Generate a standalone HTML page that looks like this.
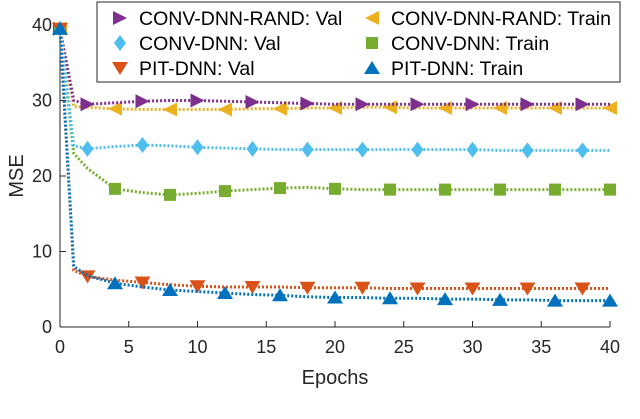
<!DOCTYPE html>
<html><head><meta charset="utf-8"><style>
body{margin:0;background:#fff;}
svg{display:block;font-family:"Liberation Sans",sans-serif;}
</style></head><body>
<svg id="c" width="640" height="419"></svg>
<script>
const epochs=[0,1,2,4,6,8,10,12,14,16,18,20,22,24,26,28,30,32,34,36,38,40];
const randVal=[39.5,30,29.5,29.7,29.9,30,30,29.9,29.8,29.7,29.6,29.5,29.5,29.5,29.5,29.5,29.5,29.5,29.5,29.5,29.5,29.5];
const randTrain=[39.5,29.2,29.1,28.9,28.8,28.8,28.8,28.8,28.9,28.9,29,29,29.1,29.1,29,29,29,29,29,29,29,29];
const convVal=[39.5,24,23.6,23.9,24.1,24,23.8,23.7,23.6,23.5,23.5,23.5,23.5,23.5,23.5,23.5,23.5,23.4,23.4,23.4,23.4,23.4];
const convTrain=[39.5,23,21,18.3,17.8,17.5,17.7,18,18.2,18.4,18.5,18.3,18.2,18.2,18.2,18.2,18.2,18.2,18.2,18.2,18.2,18.2];
const pitVal=[39.5,7.5,6.7,6.2,5.9,5.6,5.4,5.3,5.3,5.3,5.2,5.2,5.2,5.1,5.1,5.1,5.1,5.1,5.1,5.1,5.1,5.1];
const pitTrain=[39.5,8,6.8,5.8,5.3,4.9,4.7,4.5,4.3,4.2,4.0,3.9,3.9,3.8,3.8,3.7,3.7,3.6,3.6,3.5,3.5,3.5];
const xTicks=[0,5,10,15,20,25,30,35,40];
const yTicks=[0,10,20,30,40];
const X=e=>60+e*13.75, Y=v=>327-v*7.55;
const svg=document.getElementById('c');
const NS='http://www.w3.org/2000/svg';
function mk(t,a,p){const e=document.createElementNS(NS,t);for(const k in a)e.setAttribute(k,a[k]);(p||svg).appendChild(e);return e;}
function marker(shape,x,y,col,g){
  let p;
  if(shape==='right')p=`${x-7},${y-7} ${x+7},${y} ${x-7},${y+7}`;
  else if(shape==='left')p=`${x+7},${y-7} ${x-7},${y} ${x+7},${y+7}`;
  else if(shape==='down')p=`${x-8},${y-6} ${x+8},${y-6} ${x},${y+7}`;
  else if(shape==='up')p=`${x-8},${y+6} ${x+8},${y+6} ${x},${y-7}`;
  else if(shape==='diamond')p=`${x},${y-8} ${x+6},${y} ${x},${y+8} ${x-6},${y}`;
  else p=`${x-6},${y-6} ${x+6},${y-6} ${x+6},${y+6} ${x-6},${y+6}`;
  const m=mk('polygon',{points:p,fill:col},g);
  
  
}
const ax=mk('g',{});


mk('line',{x1:60,y1:327,x2:610,y2:327,stroke:'#262626','stroke-width':1},ax);
mk('line',{x1:60,y1:327,x2:60,y2:22,stroke:'#262626','stroke-width':1},ax);
xTicks.forEach(t=>{
  mk('line',{x1:X(t),y1:327,x2:X(t),y2:321,stroke:'#262626'},ax);
  const l=mk('text',{x:X(t),y:353,'text-anchor':'middle','font-size':18,fill:'#262626'},ax);l.textContent=t;
  
  
});
yTicks.forEach(t=>{
  mk('line',{x1:60,y1:Y(t),x2:66,y2:Y(t),stroke:'#262626'},ax);
  const l=mk('text',{x:52,y:Y(t)+6,'text-anchor':'end','font-size':18,fill:'#262626'},ax);l.textContent=t;
  
  
});
const xt=mk('text',{x:335,y:384,'text-anchor':'middle','font-size':20,fill:'#262626'});xt.textContent='Epochs';


const yt=mk('text',{x:23,y:176,'text-anchor':'middle','font-size':20,fill:'#262626',transform:'rotate(-90 23 176)'});yt.textContent='MSE';


const series=[
 {d:randTrain,c:'#EDB120',s:'left',m:[4,40,4],n:'CONV-DNN-RAND: Train'},
 {d:randVal,c:'#7E2F8E',s:'right',m:[2,38,4],n:'CONV-DNN-RAND: Val'},
 {d:convTrain,c:'#77AC30',s:'square',m:[4,40,4],n:'CONV-DNN: Train'},
 {d:convVal,c:'#4DBEEE',s:'diamond',m:[2,38,4],n:'CONV-DNN: Val'},
 {d:pitVal,c:'#D95319',s:'down',m:[2,38,4],n:'PIT-DNN: Val'},
 {d:pitTrain,c:'#0072BD',s:'up',m:[4,40,4],n:'PIT-DNN: Train'}];
series.forEach(s=>{
  const g=mk('g',{});
  
  
  mk('polyline',{points:epochs.map((e,i)=>X(e)+','+Y(s.d[i])).join(' '),fill:'none',stroke:s.c,'stroke-width':3,'stroke-dasharray':'2 2'},g);
  epochs.forEach((e,i)=>{
    if(e===0||(e>=s.m[0]&&e<=s.m[1]&&(e-s.m[0])%s.m[2]===0))marker(s.s,X(e),Y(s.d[i]),s.c,g);
  });
});
const lg=mk('g',{});


mk('rect',{x:97,y:2,width:523,height:80,fill:'#fff',stroke:'#262626','stroke-width':1},lg);
const leg=[[1,120,18],[0,372,18],[3,120,43],[2,372,43],[4,120,68],[5,372,68]];
leg.forEach(([i,x,y])=>{
  const s=series[i];
  const e=mk('g',{},lg);
  
  
  marker(s.s,x,y,s.c,e);
  const t=mk('text',{x:x+19,y:y+7,'font-size':19.5,fill:'#000'},e);t.textContent=s.n;
});
</script>
</body></html>
